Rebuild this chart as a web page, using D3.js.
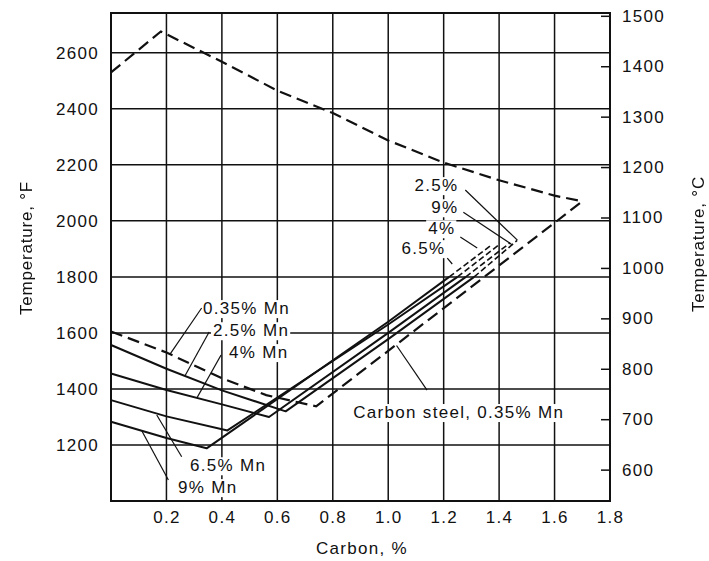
<!DOCTYPE html>
<html><head><meta charset="utf-8">
<script src="https://cdn.jsdelivr.net/npm/d3@7/dist/d3.min.js"></script>
<style>
body{margin:0;background:#fff}
text{font-family:"Liberation Sans",Arial,Helvetica,sans-serif;fill:#111}
</style>
</head><body>
<svg id="chart" width="709" height="561"></svg>
<script>
// ---- tick labels ----
const carbonTicks = [0.2,0.4,0.6,0.8,1.0,1.2,1.4,1.6,1.8];
const fahrenheitTicks = [1200,1400,1600,1800,2000,2200,2400,2600];
const celsiusTicks = [600,700,800,900,1000,1100,1200,1300,1400,1500];

// ---- upper boundary (dashed) ----
const upperC = [0, 0.18, 0.4, 0.6, 0.8, 1.0, 1.2, 1.4, 1.6, 1.7];
const upperF = [2530, 2676, 2568, 2465, 2385, 2287, 2208, 2145, 2090, 2070];

// ---- carbon steel, 0.35% Mn (dashed) ----
const carbonSteelC = [0, 0.2, 0.4, 0.56, 0.74, 1.0, 1.6, 1.7];
const carbonSteelF = [1605, 1530, 1438, 1378, 1338, 1536, 1993, 2070];

// ---- manganese steels: falling branch + rising branch (solid), extension (dashed) ----
const mn25C = [0, 0.2, 0.4, 0.63, 1.0, 1.31];
const mn25F = [1557, 1472, 1395, 1320, 1578, 1800];
const mn25ExtC = [1.31, 1.465];
const mn25ExtF = [1800, 1930];

const mn4C = [0, 0.2, 0.4, 0.57, 1.0, 1.28];
const mn4F = [1455, 1396, 1345, 1300, 1600, 1800];
const mn4ExtC = [1.28, 1.44];
const mn4ExtF = [1800, 1922];

const mn65C = [0, 0.2, 0.42, 1.0, 1.25];
const mn65F = [1360, 1302, 1252, 1630, 1800];
const mn65ExtC = [1.25, 1.40];
const mn65ExtF = [1800, 1915];

const mn9C = [0, 0.2, 0.345, 1.0, 1.22];
const mn9F = [1283, 1225, 1188, 1640, 1800];
const mn9ExtC = [1.22, 1.37];
const mn9ExtF = [1800, 1912];

// ---- labels ----
const labelText = ["0.35% Mn","2.5% Mn","4% Mn","6.5% Mn","9% Mn","2.5%","9%","4%","6.5%","Carbon steel, 0.35% Mn"];
const labelC    = [0.332, 0.368, 0.426, 0.285, 0.242, 1.253, 1.253, 1.242, 1.206, 0.874];
const labelF    = [1689, 1610, 1532, 1128, 1050, 2128, 2049, 1974, 1903, 1318];
const labelAnchor = ["start","start","start","start","start","end","end","end","end","start"];

// ---- leader lines (from label to curve) ----
const leaderC1 = [0.327, 0.354, 0.397, 0.255, 0.207, 1.278, 1.271, 1.26, 1.213, 1.14];
const leaderF1 = [1689, 1603, 1521, 1158, 1075, 2110, 2031, 1942, 1867, 1396];
const leaderC2 = [0.213, 0.267, 0.31, 0.165, 0.111, 1.466, 1.448, 1.321, 1.231, 1.03];
const leaderF2 = [1524, 1447, 1368, 1307, 1251, 1931, 1914, 1903, 1846, 1555];

const svg = d3.select("#chart");
const W = 709, H = 561;
const margin = {left:111, right:99, top:13, bottom:60};
const fMin = 1000, fMax = 2742;
const x = d3.scaleLinear().domain([0,1.8]).range([margin.left, W - margin.right]);
const yF = d3.scaleLinear().domain([fMin, fMax]).range([H - margin.bottom, margin.top]);
const toC = f => (f - 32) / 1.8;
const yC = d3.scaleLinear().domain([toC(fMin), toC(fMax)]).range([H - margin.bottom, margin.top]);

const ink = "#111";
const fontSize = 17, letterSp = 1.3;

// grid
const grid = svg.append("g");
grid.selectAll("line.v").data(carbonTicks.filter(d => d < 1.8)).join("line")
  .attr("x1", d => x(d)).attr("x2", d => x(d))
  .attr("y1", yF(fMin)).attr("y2", yF(fMax))
  .attr("stroke", ink).attr("stroke-width", 1.5);
grid.selectAll("line.h").data(fahrenheitTicks).join("line")
  .attr("x1", x(0)).attr("x2", x(1.8))
  .attr("y1", d => yF(d)).attr("y2", d => yF(d))
  .attr("stroke", ink).attr("stroke-width", 1.5);

const bgLayer = svg.append("g");
const curveLayer = svg.append("g");
const labelLayer = svg.append("g");

const line = d3.line().x(d => x(d[0])).y(d => yF(d[1]));
const zip = (cs, fs) => cs.map((c, i) => [c, fs[i]]);

const solidSeries = [zip(mn25C,mn25F), zip(mn4C,mn4F), zip(mn65C,mn65F), zip(mn9C,mn9F)];
const dashSeries = [zip(upperC,upperF), zip(carbonSteelC,carbonSteelF)];
const extSeries = [zip(mn25ExtC,mn25ExtF), zip(mn4ExtC,mn4ExtF), zip(mn65ExtC,mn65ExtF), zip(mn9ExtC,mn9ExtF)];

curveLayer.selectAll("path.solid").data(solidSeries).join("path")
  .attr("d", line).attr("fill","none").attr("stroke", ink).attr("stroke-width", 2)
  .attr("stroke-linejoin","round");
curveLayer.selectAll("path.dash").data(dashSeries).join("path")
  .attr("d", line).attr("fill","none").attr("stroke", ink).attr("stroke-width", 2.2)
  .attr("stroke-dasharray","12,6");
curveLayer.selectAll("path.ext").data(extSeries).join("path")
  .attr("d", line).attr("fill","none").attr("stroke", ink).attr("stroke-width", 1.6)
  .attr("stroke-dasharray","6,3");

curveLayer.selectAll("line.leader").data(leaderC1).join("line")
  .attr("x1", (d,i) => x(leaderC1[i])).attr("y1", (d,i) => yF(leaderF1[i]))
  .attr("x2", (d,i) => x(leaderC2[i])).attr("y2", (d,i) => yF(leaderF2[i]))
  .attr("stroke", ink).attr("stroke-width", 1.2);

const labels = labelLayer.selectAll("text").data(labelText).join("text")
  .attr("x", (d,i) => x(labelC[i])).attr("y", (d,i) => yF(labelF[i]))
  .attr("dy","0.36em").attr("text-anchor", (d,i) => labelAnchor[i])
  .attr("font-size", fontSize).attr("letter-spacing", letterSp)
  .text(d => d);
labels.each(function(){
  const b = this.getBBox();
  bgLayer.append("rect").attr("x", b.x - 2).attr("y", b.y + 1).attr("width", b.width + 3).attr("height", b.height - 1)
    .attr("fill", "#fff");
});

svg.append("rect").attr("x", x(0)).attr("y", yF(fMax)).attr("width", x(1.8)-x(0)).attr("height", yF(fMin)-yF(fMax))
  .attr("fill","none").attr("stroke", ink).attr("stroke-width", 2);

const axL = svg.append("g").attr("transform", `translate(${x(0)},0)`)
  .call(d3.axisLeft(yF).tickValues(fahrenheitTicks).tickSize(0).tickPadding(12).tickFormat(d3.format("d")));
const axB = svg.append("g").attr("transform", `translate(0,${yF(fMin)})`)
  .call(d3.axisBottom(x).tickValues(carbonTicks).tickSize(0).tickPadding(10).tickFormat(d3.format(".1f")));
const axR = svg.append("g").attr("transform", `translate(${x(1.8)},0)`)
  .call(d3.axisRight(yC).tickValues(celsiusTicks).tickSizeInner(-9).tickSizeOuter(0).tickPadding(12).tickFormat(d3.format("d")));
[axL, axB, axR].forEach(g => {
  g.select(".domain").remove();
  g.selectAll("text").attr("font-size", fontSize).attr("letter-spacing", letterSp)
    .attr("font-family", '"Liberation Sans",Arial,sans-serif').attr("fill", ink);
  g.selectAll("line").attr("stroke", ink).attr("stroke-width", 1.5);
});

// grayscale-only rendering for rotated titles
const defs = svg.append("defs");
defs.append("filter").attr("id","gray").append("feColorMatrix").attr("type","saturate").attr("values",0);

svg.append("text").attr("transform", `translate(26,248) rotate(-90)`)
  .attr("text-anchor","middle").attr("dy","0.36em").attr("font-size", fontSize).attr("letter-spacing", 0.8)
  .attr("fill", ink).attr("filter","url(#gray)")
  .text("Temperature, °F");
svg.append("text").attr("transform", `translate(698,244) rotate(-90)`)
  .attr("text-anchor","middle").attr("dy","0.36em").attr("font-size", fontSize).attr("letter-spacing", 0.8)
  .attr("fill", ink).attr("filter","url(#gray)")
  .text("Temperature, °C");
svg.append("text").attr("x", 362).attr("y", 548)
  .attr("text-anchor","middle").attr("dy","0.36em").attr("font-size", fontSize).attr("letter-spacing", letterSp)
  .text("Carbon, %");
</script>
</body></html>
